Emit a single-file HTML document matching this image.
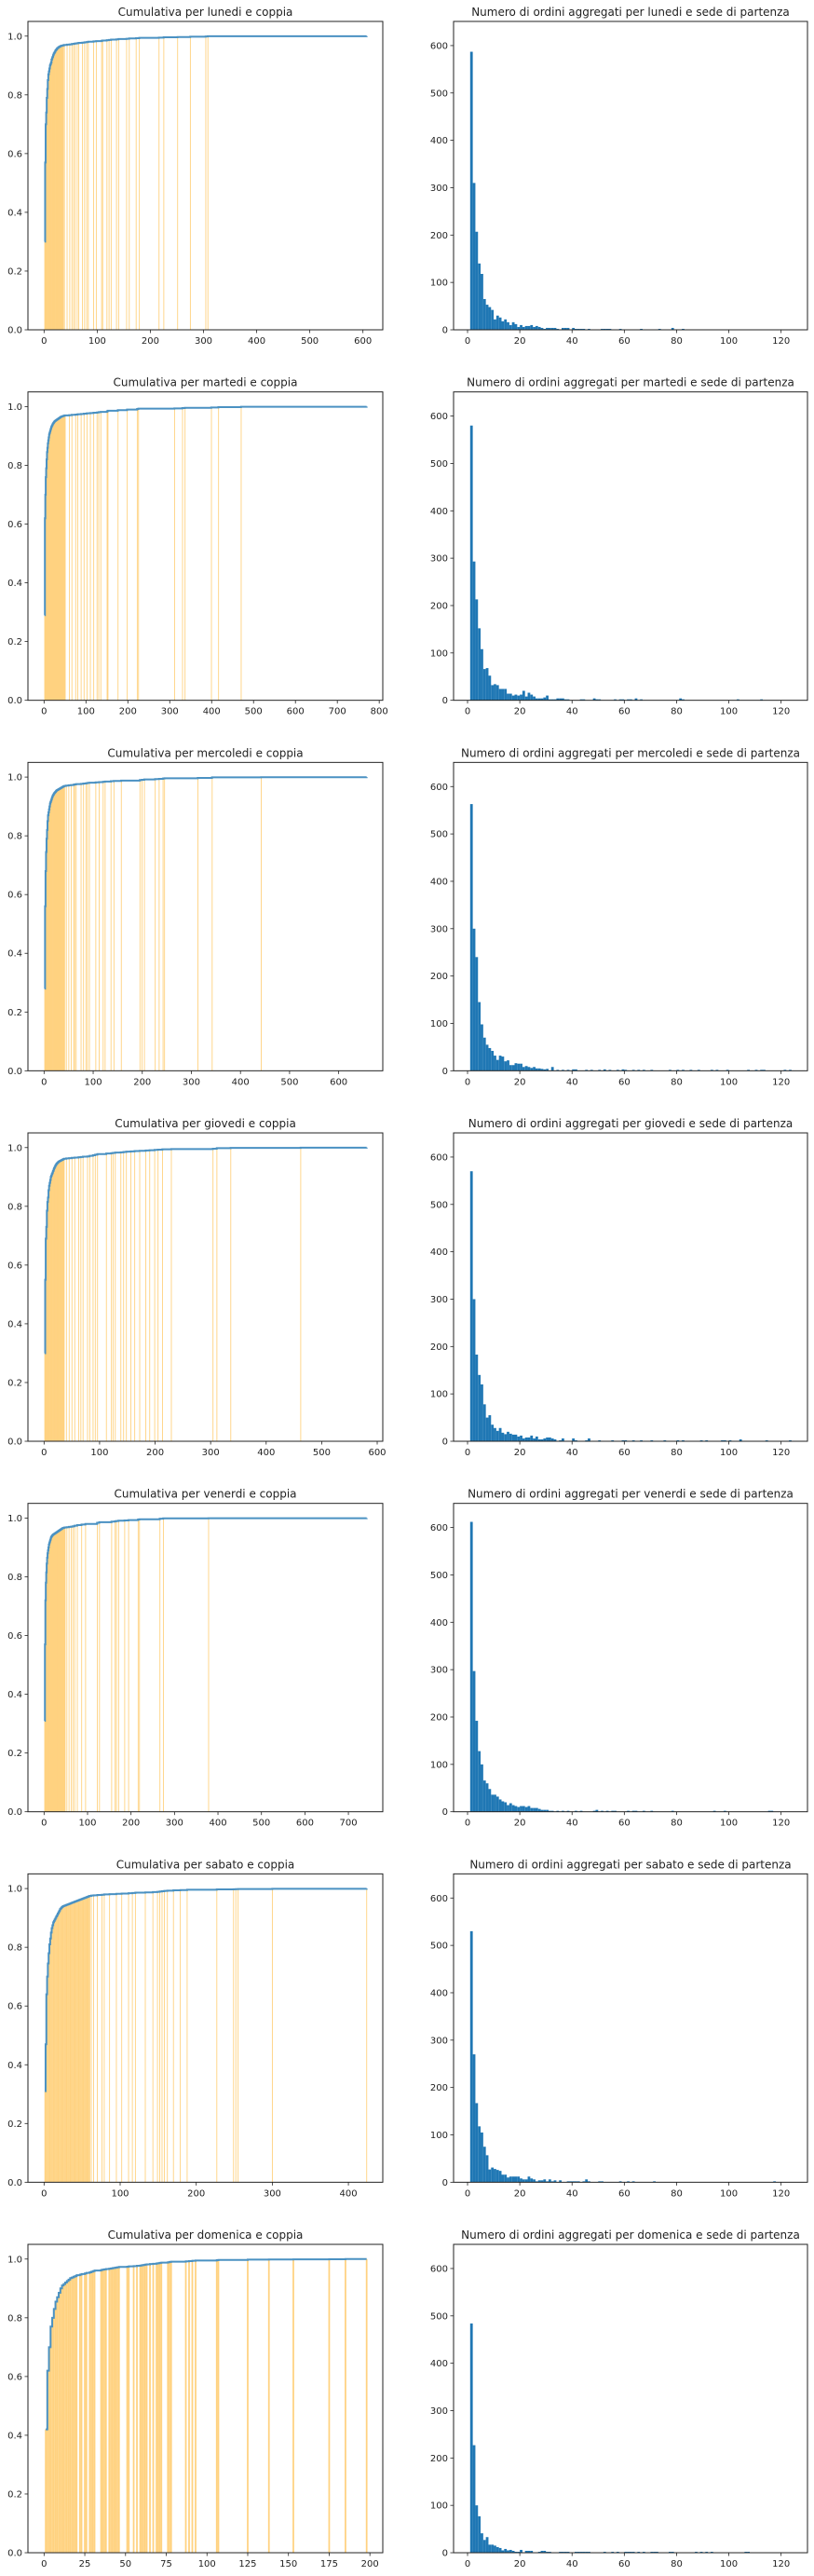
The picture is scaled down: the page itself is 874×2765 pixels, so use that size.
<!DOCTYPE html>
<html><head><meta charset="utf-8"><title>Cumulative and order-count charts by weekday</title>
<style>html,body{margin:0;padding:0;background:#fff}svg{display:block}text{font-family:"DejaVu Sans","Liberation Sans",sans-serif;fill:#222}</style>
</head><body>
<svg id="fig" width="874" height="2765" viewBox="0 0 874 2765" xmlns="http://www.w3.org/2000/svg"></svg>
<script>
const dayNames = ["lunedi","martedi","mercoledi","giovedi","venerdi","sabato","domenica"];
const cumXMax = [607,770,657,581,742,424,198];
const cumTickStep = [100,100,100,100,100,100,25];
const cumTickMax = [600,800,600,600,700,400,200];

const cdfHead_lun = [0.30,0.57,0.70,0.74,0.79,0.82,0.85,0.87,0.88,0.89,0.90,0.905,0.91,0.92,0.925,0.93,0.935,0.94,0.943,0.946,0.95,0.952,0.955,0.957,0.959,0.96,0.962,0.963,0.964,0.965,0.966,0.967,0.967,0.968,0.968,0.969];
const cdfTailX_lun = [38,43,48,52,55,58,62,65,72,76,80,83,93,98,108,110,118,122,126,136,140,155,160,173,179,216,225,251,275,304,308];
const cdfTailY_lun = [0.970,0.971,0.972,0.973,0.974,0.975,0.976,0.977,0.978,0.979,0.980,0.981,0.982,0.983,0.984,0.985,0.986,0.987,0.988,0.989,0.990,0.991,0.992,0.993,0.994,0.995,0.996,0.997,0.998,0.999,0.9995];

const cdfHead_mar = [0.29,0.62,0.70,0.76,0.79,0.82,0.845,0.86,0.875,0.885,0.895,0.905,0.91,0.915,0.92,0.925,0.93,0.933,0.936,0.939,0.942,0.944,0.946,0.948,0.95,0.951,0.952,0.953,0.954,0.955,0.956,0.957,0.958,0.959,0.96,0.961,0.962,0.963,0.964,0.965,0.966,0.966,0.967,0.967,0.968,0.968,0.969,0.969,0.97,0.97];
const cdfTailX_mar = [60,66,75,80,88,95,102,110,118,126,130,135,150,152,176,198,222,225,311,330,336,399,416,470];
const cdfTailY_mar = [0.971,0.972,0.973,0.974,0.975,0.976,0.977,0.978,0.979,0.980,0.981,0.982,0.984,0.986,0.988,0.990,0.992,0.993,0.994,0.995,0.996,0.997,0.998,0.9995];

const cdfHead_mer = [0.28,0.56,0.68,0.745,0.79,0.82,0.85,0.87,0.88,0.89,0.90,0.91,0.915,0.92,0.925,0.93,0.935,0.938,0.941,0.944,0.946,0.948,0.95,0.952,0.954,0.955,0.956,0.957,0.958,0.959,0.96,0.961,0.962,0.963,0.964,0.965,0.966,0.967,0.968,0.969];
const cdfTailX_mer = [42,45,50,55,60,62,65,75,80,85,88,92,105,112,120,124,136,142,157,195,199,204,226,234,242,245,313,342,442];
const cdfTailY_mer = [0.970,0.971,0.972,0.973,0.974,0.975,0.976,0.977,0.978,0.979,0.980,0.981,0.982,0.983,0.984,0.985,0.986,0.987,0.988,0.990,0.991,0.992,0.993,0.994,0.995,0.996,0.997,0.999,0.9995];

const cdfHead_gio = [0.30,0.55,0.69,0.73,0.785,0.815,0.83,0.855,0.87,0.88,0.89,0.90,0.905,0.91,0.915,0.92,0.925,0.93,0.934,0.938,0.941,0.944,0.946,0.948,0.95,0.952,0.953,0.954,0.955,0.956,0.957,0.958,0.959,0.96,0.961,0.962];
const cdfTailX_gio = [40,45,50,55,62,66,70,78,82,88,92,96,112,121,124,128,138,143,148,156,163,172,183,190,199,205,213,229,304,311,336,462];
const cdfTailY_gio = [0.963,0.964,0.965,0.966,0.967,0.968,0.969,0.970,0.972,0.974,0.976,0.978,0.980,0.981,0.982,0.983,0.984,0.985,0.986,0.987,0.988,0.989,0.990,0.991,0.992,0.993,0.994,0.995,0.996,0.998,0.999,0.9995];

const cdfHead_ven = [0.31,0.57,0.72,0.78,0.815,0.845,0.865,0.88,0.89,0.90,0.91,0.915,0.92,0.925,0.93,0.935,0.937,0.939,0.941,0.943,0.944,0.945,0.946,0.947,0.948,0.949,0.95,0.951,0.952,0.953,0.954,0.955,0.956,0.957,0.958,0.959,0.96,0.961,0.962,0.963,0.964,0.965,0.966,0.966,0.967,0.967,0.968,0.968];
const cdfTailX_ven = [52,57,62,66,70,76,86,95,122,127,155,163,166,171,185,194,216,219,266,274,378];
const cdfTailY_ven = [0.969,0.970,0.971,0.972,0.974,0.976,0.978,0.980,0.984,0.986,0.988,0.989,0.990,0.991,0.992,0.993,0.995,0.996,0.998,0.999,0.9995];

const cdfHead_sab = [0.31,0.47,0.64,0.70,0.745,0.78,0.81,0.83,0.85,0.865,0.875,0.885,0.89,0.895,0.90,0.905,0.91,0.915,0.92,0.925,0.93,0.933,0.936,0.938,0.94,0.941,0.942,0.943,0.944,0.945,0.946,0.947,0.948,0.949,0.95,0.951,0.952,0.953,0.954,0.955,0.956,0.957,0.958,0.959,0.96,0.961,0.962,0.963,0.964,0.965,0.966,0.967,0.968,0.969,0.97,0.971,0.972,0.973,0.974,0.975];
const cdfTailX_sab = [62,65,70,76,79,86,95,102,111,116,120,133,143,149,152,155,158,162,170,179,188,227,249,252,255,300,424];
const cdfTailY_sab = [0.976,0.977,0.978,0.979,0.980,0.981,0.982,0.983,0.984,0.985,0.986,0.987,0.988,0.989,0.990,0.991,0.992,0.993,0.994,0.995,0.996,0.997,0.9975,0.998,0.9985,0.999,1.0];

const cdfHead_dom = [0.42,0.62,0.70,0.77,0.80,0.83,0.855,0.87,0.885,0.90,0.91,0.915,0.92,0.925,0.93,0.935,0.937,0.94,0.942,0.945];
const cdfTailX_dom = [22,23,25,26,28,29,30,31,35,36,37,38,40,41,42,43,44,45,46,51,52,55,57,59,60,61,62,63,65,67,69,70,71,72,76,77,78,87,89,91,93,106,107,125,138,153,175,185,198];
const cdfTailY_dom = [0.947,0.949,0.951,0.953,0.955,0.957,0.959,0.961,0.963,0.964,0.965,0.966,0.967,0.968,0.969,0.970,0.971,0.972,0.973,0.974,0.975,0.976,0.977,0.978,0.979,0.980,0.981,0.982,0.983,0.984,0.985,0.986,0.987,0.988,0.989,0.990,0.991,0.992,0.993,0.994,0.995,0.996,0.997,0.998,0.9985,0.999,0.9995,1.0,1.0];

const hist_lun = [587,310,207,140,118,65,53,48,42,22,30,26,18,22,16,10,16,12,6,10,6,8,8,10,6,8,6,4,2,4];
const histTailX_lun = [30,31,32,33,34,36,37,38,40,41,42,43,44,46,51,52,53,54,58,66,73,78,82];
const histTailC_lun = [4,4,4,4,2,4,4,4,4,2,2,2,2,2,2,2,2,2,2,2,2,4,2];
const hist_mar = [580,293,213,152,108,66,68,52,32,34,32,24,24,24,14,14,10,12,10,12,20,8,16,12,8,4,4,4,6,10];
const histTailX_mar = [31,32,33,34,35,36,37,38,43,44,48,49,50,56,58,59,61,62,64,66,81,82,103,112];
const histTailC_mar = [2,2,2,4,4,4,2,2,2,2,4,2,2,2,2,2,2,2,4,2,4,2,2,2];
const hist_mer = [563,300,240,145,98,70,55,48,42,32,23,32,30,20,22,12,12,16,15,15,8,10,8,6,8,5,5,4,3,4];
const histTailX_mer = [32,34,36,38,40,41,45,47,50,52,54,57,59,60,63,65,67,70,77,80,82,85,88,93,95,99,107,110,112,113,121,123];
const histTailC_mer = [8,2,2,2,3,3,2,2,2,3,2,2,3,2,2,2,2,2,2,2,2,2,2,2,2,2,2,2,2,2,2,2];
const hist_gio = [570,300,183,140,120,78,50,55,35,28,22,28,18,15,20,16,14,14,10,12,6,8,8,12,6,10,4,4,6,8];
const histTailX_gio = [31,32,33,35,36,40,41,45,46,50,55,59,60,63,66,70,75,80,82,89,91,97,98,100,104,114,123];
const histTailC_gio = [8,6,4,2,6,6,2,2,6,2,2,2,2,2,2,2,2,2,2,2,2,2,2,2,4,2,2];
const hist_ven = [612,297,192,128,100,66,60,48,36,36,32,26,22,20,14,18,14,12,10,12,12,10,12,8,8,8,6,4,4,4];
const histTailX_ven = [31,32,34,36,38,41,43,48,49,51,53,55,56,61,63,64,67,70,78,94,98,115,116];
const histTailC_ven = [2,2,2,2,2,2,2,2,4,2,2,2,2,2,2,2,2,2,2,2,2,2,2];
const hist_sab = [530,270,167,118,105,75,57,27,31,28,26,24,16,16,10,12,12,12,12,8,6,6,12,8,6,2,4,4,6,2];
const histTailX_sab = [31,32,33,35,38,39,40,41,42,44,45,46,50,51,58,61,63,71,117];
const histTailC_sab = [6,2,4,4,2,2,2,2,2,2,6,2,2,2,2,2,2,2,2];
const hist_dom = [484,227,100,77,41,27,33,17,17,15,12,10,5,8,5,6,4,2,2,6];
const histTailX_dom = [22,23,24,27,28,29,30,31,35,36,37,38,41,42,43,44,45,46,52,55,57,60,61,62,63,65,67,70,71,72,77,78,87,89,91,93,106,107];
const histTailC_dom = [4,4,4,2,4,4,2,2,2,2,2,2,2,2,2,2,2,2,2,2,2,2,2,2,2,2,2,2,2,2,2,2,2,2,2,2,2,2];

const cdfHeads = [cdfHead_lun,cdfHead_mar,cdfHead_mer,cdfHead_gio,cdfHead_ven,cdfHead_sab,cdfHead_dom];
const cdfTailXs = [cdfTailX_lun,cdfTailX_mar,cdfTailX_mer,cdfTailX_gio,cdfTailX_ven,cdfTailX_sab,cdfTailX_dom];
const cdfTailYs = [cdfTailY_lun,cdfTailY_mar,cdfTailY_mer,cdfTailY_gio,cdfTailY_ven,cdfTailY_sab,cdfTailY_dom];
const hists = [hist_lun,hist_mar,hist_mer,hist_gio,hist_ven,hist_sab,hist_dom];
const histTailXs = [histTailX_lun,histTailX_mar,histTailX_mer,histTailX_gio,histTailX_ven,histTailX_sab,histTailX_dom];
const histTailCs = [histTailC_lun,histTailC_mar,histTailC_mer,histTailC_gio,histTailC_ven,histTailC_sab,histTailC_dom];
const histYTicks = [0,100,200,300,400,500,600];
const histXTicks = [0,20,40,60,80,100,120];
const cumYTicks = [0,0.2,0.4,0.6,0.8,1.0];

const NS = "http://www.w3.org/2000/svg";
const fig = document.getElementById("fig");
function mk(tag, attrs, parent) {
  const e = document.createElementNS(NS, tag);
  for (const k in attrs) e.setAttribute(k, attrs[k]);
  (parent || fig).appendChild(e);
  return e;
}
const ROW0 = 23, ROWSTEP = 397.67, AH = 331;
const LX0 = 30, LX1 = 411, RX0 = 487, RX1 = 867;

function frame(g, x0, y0, x1, y1) {
  const r = mk("rect", {x:x0, y:y0, width:x1-x0, height:y1-y0, fill:"none", stroke:"#222", "stroke-width":1}, g);
  
  
}
function xtick(g, px, yb, label) {
  const t = mk("line", {x1:px, x2:px, y1:yb, y2:yb+3.5, stroke:"#222", "stroke-width":0.8}, g);
  
  
  const tx = mk("text", {x:px, y:yb+15, "font-size":10, "text-anchor":"middle"}, g);
  tx.textContent = label;
  
  
}
function ytick(g, xl, py, label) {
  const t = mk("line", {x1:xl-3.5, x2:xl, y1:py, y2:py, stroke:"#222", "stroke-width":0.8}, g);
  
  
  const tx = mk("text", {x:xl-6, y:py+3.5, "font-size":10, "text-anchor":"end"}, g);
  tx.textContent = label;
  
  
}
function title(g, cx, y, s) {
  const t = mk("text", {x:cx, y:y, "font-size":12, "text-anchor":"middle"}, g);
  t.textContent = s;
  
  
}

for (let i = 0; i < 7; i++) {
  const top = ROW0 + i*ROWSTEP, bot = top + AH;
  // ---- cumulative panel ----
  const gL = mk("g", {});
  
  
  const xmax = cumXMax[i];
  const xlo = -0.05*xmax, xhi = 1.05*xmax;
  const sx = v => LX0 + (v - xlo)/(xhi - xlo)*(LX1 - LX0);
  const sy = v => bot - v/1.05*AH;
  const xs = [], ys = [];
  cdfHeads[i].forEach((y, k) => { xs.push(k+1); ys.push(y); });
  const tx = cdfTailXs[i], ty = cdfTailYs[i];
  for (let k = 0; k < Math.min(tx.length, ty.length); k++) { xs.push(tx[k]); ys.push(ty[k]); }
  const barW = Math.max(sx(1) - sx(0), 0.9);
  for (let k = 0; k < xs.length; k++) {
    const b = mk("rect", {x:sx(xs[k]-0.5), y:sy(ys[k]), width:barW, height:bot - sy(ys[k]), fill:"#ffd280"}, gL);
    
    
  }
  let d = "M" + sx(xs[0]) + " " + sy(ys[0]);
  for (let k = 1; k < xs.length; k++) { d += " H" + sx(xs[k]) + " V" + sy(ys[k]); }
  d += " H" + sx(xmax) + " V" + sy(1.0);
  const ln = mk("path", {d:d, fill:"none", stroke:"#4a91c2", "stroke-width":2}, gL);
  
  
  frame(gL, LX0, top, LX1, bot);
  for (let v = 0; v <= cumTickMax[i]; v += cumTickStep[i]) xtick(gL, sx(v), bot, String(v));
  cumYTicks.forEach(v => ytick(gL, LX0, sy(v), v.toFixed(1)));
  title(gL, (LX0+LX1)/2, top - 6, "Cumulativa per " + dayNames[i] + " e coppia");

  // ---- histogram panel ----
  const gR = mk("g", {});
  
  
  const hx = v => RX0 + (v + 5.35)/135.45*(RX1 - RX0);
  const hy = v => bot - v/651*AH;
  const hb = [], hc = [];
  hists[i].forEach((c, k) => { hb.push(k+1); hc.push(c); });
  const htx = histTailXs[i], htc = histTailCs[i];
  for (let k = 0; k < Math.min(htx.length, htc.length); k++) { hb.push(htx[k]); hc.push(htc[k]); }
  for (let k = 0; k < hb.length; k++) {
    const r = mk("rect", {x:hx(hb[k]), y:hy(hc[k]), width:hx(hb[k]+1)-hx(hb[k]), height:bot - hy(hc[k]), fill:"#1f77b4"}, gR);
    
    
  }
  frame(gR, RX0, top, RX1, bot);
  histXTicks.forEach(v => xtick(gR, hx(v), bot, String(v)));
  histYTicks.forEach(v => ytick(gR, RX0, hy(v), String(v)));
  title(gR, (RX0+RX1)/2, top - 6, "Numero di ordini aggregati per " + dayNames[i] + " e sede di partenza");
}
</script>
</body></html>
